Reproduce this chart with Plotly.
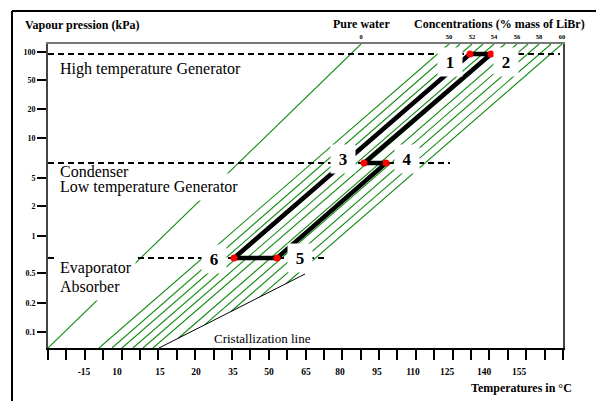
import plotly.graph_objects as go

FONT = "Liberation Serif"

# ---------------- data (diagram units: x = temperature scale, y = vapour-pressure scale) ----------------
temp_labels = ["-15", "10", "15", "20", "35", "50", "65", "80", "95", "110", "125", "140", "155"]
temp_label_x = [36, 69, 112, 148, 185, 221, 258, 292, 329, 365, 399, 436, 471]
pressure_labels = ["100", "50", "20", "10", "5", "2", "1", "0.5", "0.2", "0.1"]
pressure_y = [296, 268, 239, 210, 170, 142, 112, 75, 45, 16]

# iso-concentration lines (% mass of LiBr): x where each line meets the top (y=304) and the bottom (y=0)
conc = [50, 51, 52, 53, 54, 55, 56, 57, 58, 59, 60]
conc_top_x = [401, 412, 424, 435, 446, 457, 469, 480, 491, 503, 514]
conc_bottom_x = [51, 64, 74, 85, 95, 105, 119, 130, 141, 153, 164]
conc_labels = ["50", "52", "54", "56", "58", "60"]
pure_water_label = "0"
pure_water_x = [0, 313]
pure_water_y = [0, 304]

# crystallization line
cryst_x = [111, 257]
cryst_y = [0, 74]

# absorption cycle points
cycle_names = ["1", "2", "3", "4", "5", "6"]
cycle_x = [422, 443, 316, 338, 229, 186]
cycle_y = [294, 294, 185, 185, 90, 90]

# pressure levels (dashed)
level_y = [294, 185, 90]
level_end_x = [512, 402, 279]

X_MAX, Y_MAX = 515, 304
N_TICKS = 28

# ---------------- figure ----------------
fig = go.Figure()

# iso-concentration lines, clipped by the crystallization line
s = (cryst_y[1] - cryst_y[0]) / (cryst_x[1] - cryst_x[0])
gx, gy = [], []
for xt, xb in zip(conc_top_x, conc_bottom_x):
    k = (xt - xb) / Y_MAX
    yc = s * (xb - cryst_x[0]) / (1 - s * k)
    if yc > 0:
        x0, y0 = xb + k * yc, yc
    else:
        x0, y0 = xb, 0
    gx += [x0, xt, None]
    gy += [y0, Y_MAX, None]
gx += pure_water_x
gy += pure_water_y
fig.add_trace(go.Scatter(x=gx, y=gy, mode="lines", line=dict(color="#108a10", width=1.1),
                         hoverinfo="skip", showlegend=False))

# crystallization line
fig.add_trace(go.Scatter(x=cryst_x, y=cryst_y, mode="lines", line=dict(color="black", width=1),
                         hoverinfo="skip", showlegend=False))

# pressure levels
for yv, xe in zip(level_y, level_end_x):
    fig.add_trace(go.Scatter(x=[0, xe], y=[yv, yv], mode="lines",
                             line=dict(color="black", width=2, dash="6px,4px"),
                             hoverinfo="skip", showlegend=False, cliponaxis=False))

# cycle 1-2-3-4-5-6-1
order = [0, 1, 2, 3, 4, 5, 0]
fig.add_trace(go.Scatter(x=[cycle_x[i] for i in order], y=[cycle_y[i] for i in order],
                         mode="lines", line=dict(color="black", width=4.5),
                         hoverinfo="skip", showlegend=False))
fig.add_trace(go.Scatter(x=cycle_x, y=cycle_y, mode="markers",
                         marker=dict(color="red", size=7), hoverinfo="skip", showlegend=False))

# dummy trace for top axis
fig.add_trace(go.Scatter(x=[0], y=[0], xaxis="x2", mode="markers", marker=dict(opacity=0),
                         hoverinfo="skip", showlegend=False))

# ---------------- annotations ----------------
ann = []
def txt(x, y, t, size, bold=False, xref="x", yref="y", xanchor="left", bg=None, w=None, h=None, pad=1):
    d = dict(x=x, y=y, xref=xref, yref=yref, text=t, showarrow=False, xanchor=xanchor, yanchor="middle",
             font=dict(family=FONT, size=size, color="black", weight="bold" if bold else "normal"),
             borderpad=pad)
    if bg:
        d["bgcolor"] = bg
    if w:
        d["width"] = w
    if h:
        d["height"] = h
    ann.append(d)

# page pixel -> paper coordinates
def px(xp):
    return (xp - 48) / 515
def py(yp):
    return (348 - yp) / 304

txt(px(23), py(25), "Vapour pression (kPa)", 12, True, "paper", "paper")
txt(px(331), py(24), "Pure water", 12, True, "paper", "paper")
txt(px(412), py(24), "Concentrations (% mass of LiBr)", 12, True, "paper", "paper")
txt(px(469), py(388), "Temperatures in °C", 12, True, "paper", "paper")

# region labels
txt(10, 279, "High temperature Generator", 16, bg="white")
txt(7, 161, "Low temperature Generator", 16, bg="white", pad=4)
txt(10, 177, "Condenser", 16)
txt(6, 62, "Absorber", 16, bg="white", pad=5)
txt(8, 80, "Evaporator", 16, bg="white", pad=3)
txt(164, 10, "Cristallization line", 13)

# point labels
num_pos = {"1": (402, 286), "2": (458, 286), "3": (295, 189), "4": (359, 189), "5": (252, 90), "6": (166, 89)}
for n in cycle_names:
    x, y = num_pos[n]
    txt(x, y, n, 17, True, xanchor="center", bg="white", w=24, h=28, pad=0)

fig.update_layout(annotations=ann)

# outer frame
fig.add_shape(type="line", xref="paper", yref="paper", x0=px(12), x1=px(606), y0=py(11), y1=py(11),
              line=dict(color="black", width=2))
fig.add_shape(type="line", xref="paper", yref="paper", x0=px(12), x1=px(12), y0=py(11), y1=py(403),
              line=dict(color="black", width=2))

# the page body has an 8px margin: the figure is placed at (8, 8)
fig.update_layout(
    width=596, height=393,
    margin=dict(l=40, r=41, t=36, b=53, autoexpand=False),
    paper_bgcolor="white", plot_bgcolor="white",
    showlegend=False,
    xaxis=dict(range=[0, X_MAX], showgrid=False, zeroline=False, automargin=False,
               showline=True, linecolor="black", linewidth=2,
               tickvals=temp_label_x, ticktext=temp_labels, ticks="",
               tickfont=dict(family=FONT, size=9.5, color="black", weight="bold"),
               ticklabelstandoff=14,
               minor=dict(ticks="outside", tick0=0, dtick=X_MAX / N_TICKS, ticklen=10,
                          tickwidth=2, tickcolor="black", showgrid=False)),
    xaxis2=dict(range=[0, X_MAX], overlaying="x", side="top", showgrid=False, zeroline=False,
                automargin=False,
                showline=True, linecolor="#777777", linewidth=2,
                tickvals=[pure_water_x[1]] + [conc_top_x[conc.index(int(c))] for c in conc_labels],
                ticktext=[pure_water_label] + conc_labels, ticks="",
                tickfont=dict(family=FONT, size=6.5, color="black", weight="bold"),
                ticklabelstandoff=0),
    yaxis=dict(range=[0, Y_MAX], showgrid=False, zeroline=False, automargin=False,
               showline=True, linecolor="#444444", linewidth=2, mirror=True,
               tickvals=pressure_y, ticktext=pressure_labels, ticks="outside", ticklen=9,
               tickwidth=1.5, tickcolor="black",
               tickfont=dict(family=FONT, size=8, color="black", weight="bold")),
)

fig.write_html("out.html")
